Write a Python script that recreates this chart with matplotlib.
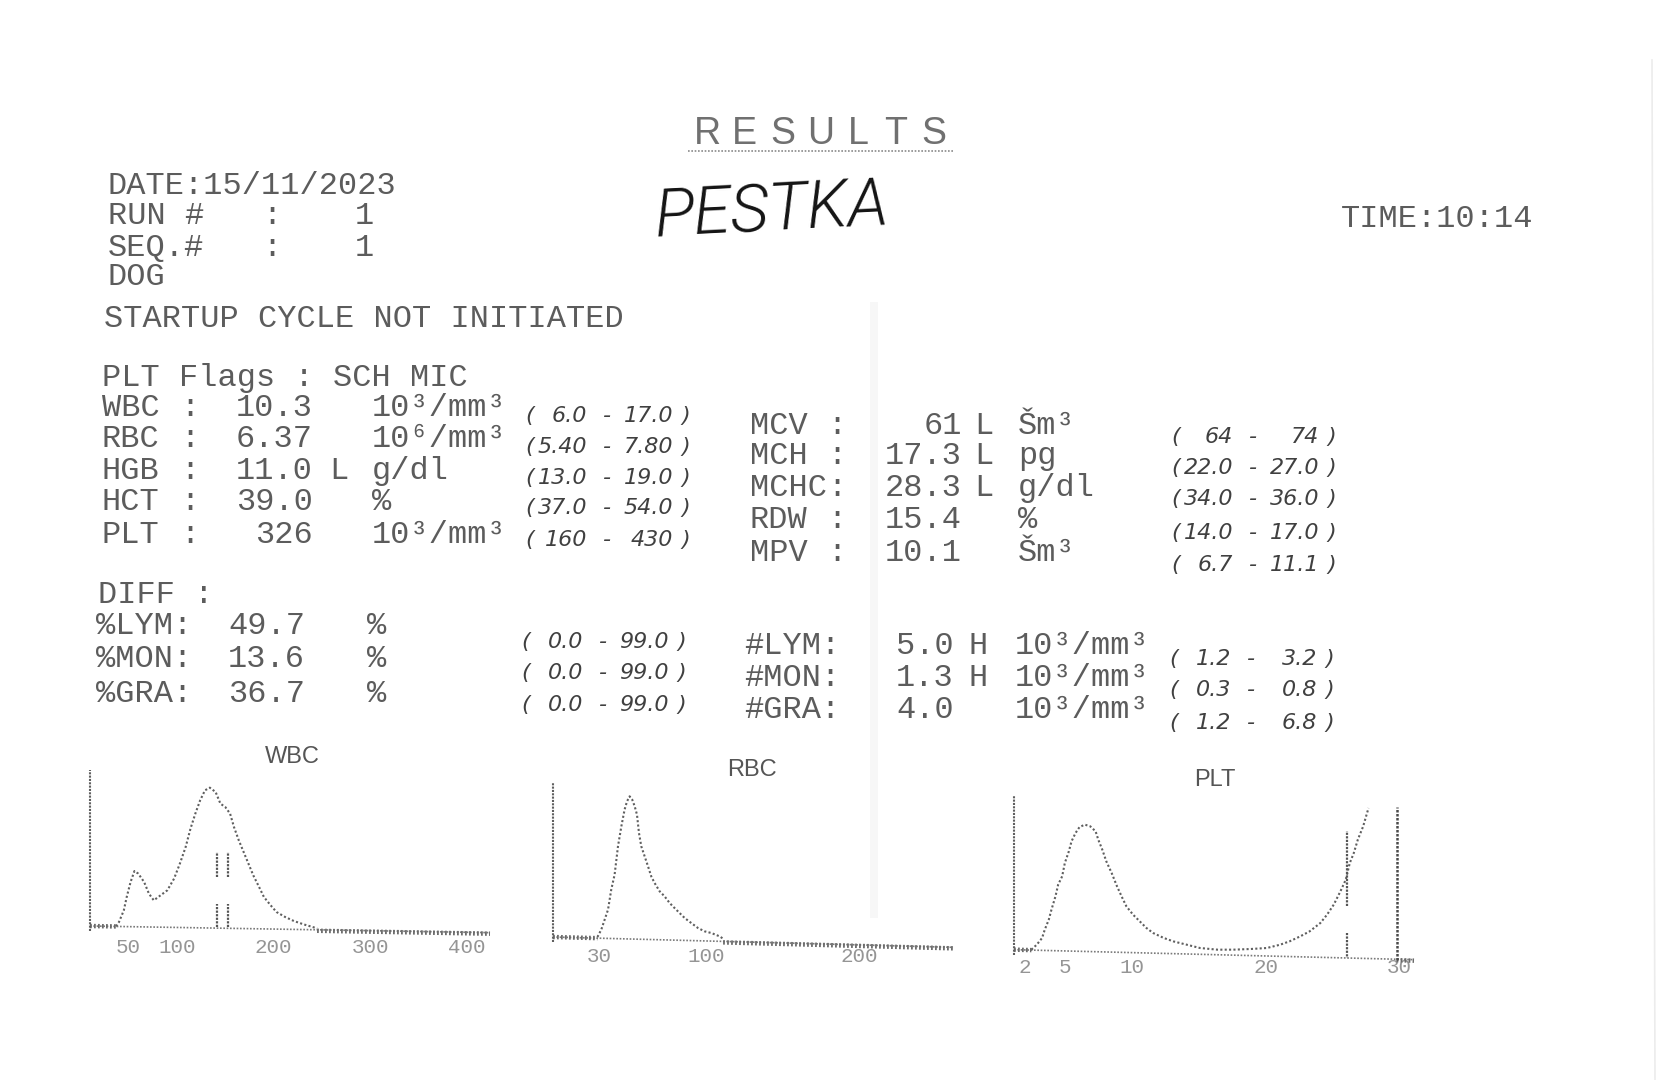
import matplotlib
matplotlib.use("Agg")
import matplotlib.pyplot as plt
from matplotlib import font_manager
import numpy as np

# ---- report text ----
date_str = "DATE:15/11/2023"
run_no = "1"
seq_no = "1"
species = "DOG"
startup_msg = "STARTUP CYCLE NOT INITIATED"
time_str = "TIME:10:14"
patient = "PESTKA"
plt_flags = "PLT Flags : SCH MIC"

cbc_labels = ["WBC", "RBC", "HGB", "HCT", "PLT"]
cbc_values = ["10.3", "6.37", "11.0", "39.0", "326"]
cbc_flags = ["", "", "L", "", ""]
cbc_units = ["10³/mm³", "10⁶/mm³", "g/dl", "%", "10³/mm³"]
cbc_low = ["6.0", "5.40", "13.0", "37.0", "160"]
cbc_high = ["17.0", "7.80", "19.0", "54.0", "430"]

idx_labels = ["MCV", "MCH", "MCHC", "RDW", "MPV"]
idx_values = ["61", "17.3", "28.3", "15.4", "10.1"]
idx_flags = ["L", "L", "L", "", ""]
idx_units = ["Šm³", "pg", "g/dl", "%", "Šm³"]
idx_low = ["64", "22.0", "34.0", "14.0", "6.7"]
idx_high = ["74", "27.0", "36.0", "17.0", "11.1"]

pct_labels = ["%LYM:", "%MON:", "%GRA:"]
pct_values = ["49.7", "13.6", "36.7"]
pct_low = ["0.0", "0.0", "0.0"]
pct_high = ["99.0", "99.0", "99.0"]

abs_labels = ["#LYM:", "#MON:", "#GRA:"]
abs_values = ["5.0", "1.3", "4.0"]
abs_flags = ["H", "H", ""]
abs_low = ["1.2", "0.3", "1.2"]
abs_high = ["3.2", "0.8", "6.8"]

# ---- histograms (x in fL, y in relative counts) ----
wbc_x = [37, 40, 45, 48, 52, 56, 60, 66, 71, 76, 83, 90, 97, 103, 109, 114, 119, 124, 129,
         134, 140, 145, 150, 155, 159, 164, 169, 174, 179, 185, 190, 197, 203, 212, 221, 231, 245]
wbc_y = [2, 15, 50, 90, 135, 168, 160, 135, 100, 80, 95, 110, 145, 190, 240, 295, 340, 380, 410,
         418, 405, 370, 360, 340, 300, 260, 225, 190, 155, 120, 90, 65, 45, 30, 18, 8, -4]
wbc_ticks = [50, 100, 200, 300, 400]
wbc_marks = [141, 153]

rbc_x = [29, 31.5, 33.7, 35.9, 38, 40.2, 42.4, 44.6, 46.7, 48.3, 50, 51.7, 53.3, 54.8, 56.1,
         57.6, 59.8, 62, 64.1, 66.3, 69.6, 72.8, 76.1, 79.3, 82.6, 85.9, 90.2, 94.6, 98.9,
         103.3, 108.7, 111]
rbc_y = [3, 25, 55, 85, 145, 190, 275, 335, 385, 410, 425, 415, 395, 370, 315, 275, 245, 215,
         185, 165, 140, 125, 105, 90, 75, 60, 45, 30, 20, 15, 5, -2]
rbc_ticks = [30, 100, 200]

plt_x = [2.5, 2.9, 3.3, 3.5, 3.8, 4.0, 4.3, 4.5, 4.8, 5.0, 5.3, 5.5, 5.8, 6.1, 6.5, 6.9, 7.3,
         7.5, 7.8, 8.1, 8.5, 8.9, 9.3, 9.6, 10.1, 10.6, 11.1, 11.6, 12.4, 13.1, 14.1, 15.1,
         16.4, 17.6, 18.9, 20.1, 21.1, 21.8, 22.6, 23.3, 24.1, 24.6, 25.1, 25.6, 26.0, 26.3,
         26.6, 26.9, 27.3, 27.7]
plt_y = [10, 25, 45, 70, 100, 130, 170, 205, 230, 270, 305, 335, 360, 378, 385, 380, 365,
         340, 310, 275, 240, 200, 165, 140, 115, 95, 75, 60, 45, 35, 25, 15, 10, 10, 12, 15,
         25, 35, 50, 65, 90, 115, 145, 185, 220, 270, 300, 340, 380, 435]
plt_ticks = [2, 5, 10, 20, 30]
plt_marks = [26.1, 29.8]

W, H = 1666, 1080
INK = "#5c5c5c"
MONO = ["Liberation Mono", "DejaVu Sans Mono"]
installed = {f.name for f in font_manager.fontManager.ttflist}
NARROW = ["Liberation Sans Narrow", "DejaVu Sans"] if "Liberation Sans Narrow" in installed \
    else ["DejaVu Sans"]

fig = plt.figure(figsize=(W / 100, H / 100), dpi=100)
fig.patch.set_facecolor("white")
bg = fig.add_axes([0, 0, 1, 1])
bg.set_xlim(0, W)
bg.set_ylim(H, 0)
bg.axis("off")

# paper fold and edge
bg.axvspan(870, 878, ymin=0.15, ymax=0.72, color="#f7f7f7", lw=0)
bg.plot([1652, 1655], [60, 1080], color="#ececec", lw=1.2)


def put(x, y, s, size=23, ha="left", **kw):
    kw.setdefault("family", MONO)
    kw.setdefault("color", INK)
    bg.text(x, y, s, fontsize=size, ha=ha, va="center", **kw)


def put_range(x0, y, lo, hi):
    kw = dict(size=17 if NARROW[0] != "DejaVu Sans" else 16, family=NARROW, style="italic",
              color="#404040")
    put(x0, y, "(", **kw)
    put(x0 + 62, y, lo, ha="right", **kw)
    put(x0 + 82, y, "-", ha="center", **kw)
    put(x0 + 148, y, hi, ha="right", **kw)
    put(x0 + 156, y, ")", **kw)


# title with wide letter spacing
for i, ch in enumerate("RESULTS"):
    put(707 + i * 37.8, 134, ch, size=27, ha="center", family=["Liberation Sans", "DejaVu Sans"],
        color="#707070")
bg.plot([688, 954], [151, 151], color="#8a8a8a", lw=1.2, ls=(0, (1, 1)))

put(108, 186, date_str)
put(108, 216, "RUN #")
put(262, 216, ":")
put(355, 216, run_no)
put(108, 248, "SEQ.#")
put(262, 248, ":")
put(355, 248, seq_no)
put(108, 277, species)
put(104, 319, startup_msg)
put(1341, 219, time_str)
bg.text(772, 212, patient, fontsize=48, family=["Roboto", "DejaVu Sans"], style="italic",
        weight=300, color="#141414", ha="center", va="center", rotation=3)

put(102, 378, plt_flags)
rows_l = [408, 439, 471, 502, 535]
rng_l = [416, 447, 478, 508, 540]
for i in range(5):
    y = rows_l[i]
    put(102, y, cbc_labels[i])
    put(180, y, ":")
    put(313, y, cbc_values[i], ha="right")
    if cbc_flags[i]:
        put(329, y, cbc_flags[i])
    put(372, y, cbc_units[i])
    put_range(525, rng_l[i], cbc_low[i], cbc_high[i])

rows_r = [426, 456, 488, 520, 553]
rng_r = [437, 468, 499, 533, 565]
for i in range(5):
    y = rows_r[i]
    put(750, y, idx_labels[i])
    put(827, y, ":")
    put(962, y, idx_values[i], ha="right")
    if idx_flags[i]:
        put(974, y, idx_flags[i])
    put(1018, y, idx_units[i])
    put_range(1171, rng_r[i], idx_low[i], idx_high[i])

put(98, 595, "DIFF :")
rows_p = [626, 659, 694]
rng_p = [642, 673, 705]
for i in range(3):
    put(96, rows_p[i], pct_labels[i])
    put(305, rows_p[i], pct_values[i], ha="right")
    put(367, rows_p[i], "%")
    put_range(521, rng_p[i], pct_low[i], pct_high[i])

rows_a = [646, 678, 710]
rng_a = [659, 690, 723]
for i in range(3):
    put(744, rows_a[i], abs_labels[i])
    put(954, rows_a[i], abs_values[i], ha="right")
    if abs_flags[i]:
        put(969, rows_a[i], abs_flags[i])
    put(1015, rows_a[i], "10³/mm³")
    put_range(1169, rng_a[i], abs_low[i], abs_high[i])


def hist_axes(x0, x1, base, xlim, ylim):
    top = base - ylim[1] / 3
    bot = base - ylim[0] / 3
    a = fig.add_axes([x0 / W, (H - bot) / H, (x1 - x0) / W, (bot - top) / H])
    a.set_xlim(*xlim)
    a.set_ylim(*ylim)
    a.patch.set_alpha(0)
    for s in a.spines.values():
        s.set_visible(False)
    a.set_yticks([])
    a.tick_params(axis="x", length=0, pad=0, labelsize=15, labelcolor="#959595")
    return a


def draw_hist(a, xs, ys, ticks, tilt, curve_span, ytop):
    x0, x1 = a.get_xlim()
    hl, hr = tilt
    # thin axis under the curve, thick where the curve is flat
    a.plot([x0, x1], [hl, hr], color="#7a7a7a", lw=1.2, ls=(0, (1, 1)), clip_on=False)
    lo, hi = curve_span
    f = lambda u: hl + (hr - hl) * (u - x0) / (x1 - x0)
    a.plot([x0, lo], [f(x0), f(lo)], color="#6a6a6a", lw=3.2, ls=(0, (0.4, 0.5)), clip_on=False)
    a.plot([hi, x1], [f(hi) - 3, f(x1) - 3], color="#6a6a6a", lw=3.2, ls=(0, (0.4, 0.5)),
           clip_on=False)
    a.plot([x0, x0], [hl - 15, ytop], color="#5f5f5f", lw=1.5, ls=(0, (1, 0.6)), clip_on=False)
    a.plot(xs, ys, color="#5f5f5f", lw=1.5, ls=(0, (1, 1.1)), clip_on=False)
    a.set_xticks(ticks)
    a.set_xticklabels([str(t) for t in ticks], family=MONO)


ax_w = hist_axes(90, 490, 927, (10, 424), (-33, 480))
draw_hist(ax_w, wbc_x, wbc_y, wbc_ticks, (3, -17), (37, 245), 470)
for m in wbc_marks:
    ax_w.plot([m, m], [0, 70], color="#555555", lw=1.6, ls=(0, (1, 0.6)))
    ax_w.plot([m, m], [150, 225], color="#555555", lw=1.6, ls=(0, (1, 0.6)))

ax_r = hist_axes(553, 953, 938, (0, 261), (-27, 480))
draw_hist(ax_r, rbc_x, rbc_y, rbc_ticks, (3, -28), (29, 111), 465)

ax_p = hist_axes(1014, 1414, 953, (1.2, 31.1), (-15, 480))
draw_hist(ax_p, plt_x, plt_y, plt_ticks, (10, -20), (2.5, 29.8), 470)
ax_p.plot([plt_marks[0]] * 2, [140, 365], color="#555555", lw=1.6, ls=(0, (1, 0.6)))
ax_p.plot([plt_marks[0]] * 2, [-20, 60], color="#555555", lw=1.6, ls=(0, (1, 0.6)))
ax_p.plot([plt_marks[1]] * 2, [-20, 438], color="#4a4a4a", lw=1.8, ls=(0, (1, 0.6)),
          clip_on=False)

for name, (tx, ty) in zip(["WBC", "RBC", "PLT"], [(292, 757), (752, 770), (1215, 780)]):
    bg.text(tx, ty, name, fontsize=17, family=["Liberation Sans", "DejaVu Sans"], color="#555",
            ha="center", va="center")

fig.savefig("out.png", dpi=100, facecolor="white")
